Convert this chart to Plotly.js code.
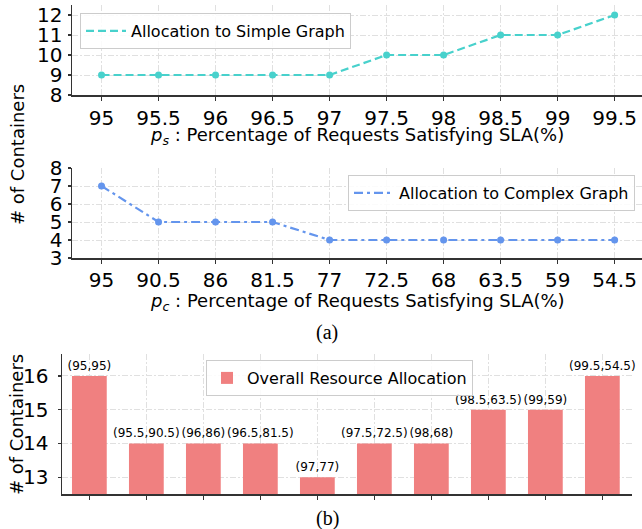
<!DOCTYPE html>
<html>
<head>
<meta charset="utf-8">
<script src="https://cdn.plot.ly/plotly-3.0.1.min.js"></script>
<style>html,body{margin:0;padding:0;background:#fff;}#chart{width:642px;height:529px;}</style>
</head>
<body>
<div id="chart"></div>
<script>
// ---- data ----
const psLabels = ["95","95.5","96","96.5","97","97.5","98","98.5","99","99.5"];
const simpleAlloc = [9, 9, 9, 9, 9, 10, 10, 11, 11, 12];
const pcLabels = ["95","90.5","86","81.5","77","72.5","68","63.5","59","54.5"];
const complexAlloc = [7, 5, 5, 5, 4, 4, 4, 4, 4, 4];
const overallAlloc = [16, 14, 14, 14, 13, 14, 14, 15, 15, 16];
const pairLabels = psLabels.map((p, i) => "(" + p + "," + pcLabels[i] + ")");

const FONT = "DejaVu Sans, Liberation Sans, sans-serif";
const SERIF = "Liberation Serif, Times New Roman, serif";
const gridColor = "#e0e0e0";
const gridDash = "6px,2px,2px,2px";
const simpleColor = "#48D1CC", complexColor = "#6495ED", barColor = "#F08080";
const simpleDash = "8px,4px", complexDash = "9px,4px,3px,4px";

const traces = [
  {
    x: psLabels, y: simpleAlloc, xaxis: "x", yaxis: "y",
    type: "scatter", mode: "lines", name: "Allocation to Simple Graph",
    line: {color: simpleColor, width: 2.2, dash: simpleDash},
    legend: "legend"
  },
  {
    x: psLabels, y: simpleAlloc, xaxis: "x", yaxis: "y",
    type: "scatter", mode: "markers", showlegend: false,
    marker: {color: simpleColor, size: 7}
  },
  {
    x: pcLabels, y: complexAlloc, xaxis: "x2", yaxis: "y2",
    type: "scatter", mode: "lines", name: "Allocation to Complex Graph",
    line: {color: complexColor, width: 2.2, dash: complexDash},
    legend: "legend2"
  },
  {
    x: pcLabels, y: complexAlloc, xaxis: "x2", yaxis: "y2",
    type: "scatter", mode: "markers", showlegend: false,
    marker: {color: complexColor, size: 7}
  },
  {
    x: pairLabels, y: overallAlloc, xaxis: "x3", yaxis: "y3",
    type: "bar", name: "Overall Resource Allocation",
    marker: {color: barColor}, width: 0.61,
    text: pairLabels, textposition: "outside", cliponaxis: false,
    constraintext: "none",
    textfont: {family: FONT, size: 12, color: "#000"},
    legend: "legend3"
  }
];

function xax(domain, range, extra) {
  return Object.assign({
    domain: domain, range: range, type: "category",
    showline: true, linecolor: "#333", linewidth: 1.5,
    ticks: "outside", ticklen: 4, tickcolor: "#333", tickwidth: 1.2,
    showgrid: true, gridcolor: gridColor, gridwidth: 1, griddash: gridDash,
    tickfont: {family: FONT, size: 20, color: "#000"},
    zeroline: false, fixedrange: true
  }, extra || {});
}
function yax(domain, range, dtick, extra) {
  return Object.assign({
    domain: domain, range: range, dtick: dtick, tick0: 0,
    showline: true, linecolor: "#333", linewidth: 1.5,
    ticks: "outside", ticklen: 3, tickcolor: "#333", tickwidth: 1.2,
    showgrid: true, gridcolor: gridColor, gridwidth: 1, griddash: gridDash,
    tickfont: {family: FONT, size: 20, color: "#000"},
    zeroline: false, fixedrange: true, ticklabelstandoff: 1
  }, extra || {});
}

const legendBase = {
  xanchor: "left", yanchor: "top",
  bgcolor: "rgba(255,255,255,0.85)", bordercolor: "#cccccc", borderwidth: 1,
  font: {family: FONT, size: 16, color: "#000"}
};

const layout = {
  width: 642, height: 529,
  margin: {l: 0, r: 0, t: 0, b: 0},
  paper_bgcolor: "#fff", plot_bgcolor: "#fff",
  font: {family: FONT, color: "#000"},
  showlegend: true,
  xaxis: xax([72/642, 1], [-0.518, 9.48], {anchor: "y"}),
  yaxis: yax([1 - 95/529, 1 - 5/529], [8, 12.5], 1, {anchor: "x"}),
  xaxis2: xax([72/642, 1], [-0.518, 9.48], {anchor: "y2", ticklabelstandoff: -1}),
  yaxis2: yax([1 - 258/529, 1 - 168/529], [3, 8], 1, {anchor: "x2"}),
  xaxis3: xax([62/642, 632/642], [-0.48, 9.52], {anchor: "y3", showticklabels: false, layer: "above traces"}),
  yaxis3: yax([1 - 494/529, 1 - 354/529], [12.5, 16.65], 1, {anchor: "x3", layer: "above traces", ticklabelstandoff: 5}),
  legend: Object.assign({x: 80/642, y: 1 - 13/529, itemwidth: 40}, legendBase),
  legend2: Object.assign({x: 348/642, y: 1 - 175/529, itemwidth: 40}, legendBase),
  legend3: Object.assign({x: 206/642, y: 1 - 360/529}, legendBase),
  annotations: [
    {text: "<i>p</i><sub><i>s</i></sub> : Percentage of Requests Satisfying SLA(%)",
     xref: "paper", yref: "paper", x: 357/642, y: 1 - 136/529, xanchor: "center", yanchor: "middle",
     showarrow: false, font: {family: FONT, size: 18, color: "#000"}},
    {text: "<i>p</i><sub><i>c</i></sub> : Percentage of Requests Satisfying SLA(%)",
     xref: "paper", yref: "paper", x: 357/642, y: 1 - 302/529, xanchor: "center", yanchor: "middle",
     showarrow: false, font: {family: FONT, size: 18, color: "#000"}},
    {text: "(a)", xref: "paper", yref: "paper", x: 327/642, y: 1 - 332/529,
     xanchor: "center", yanchor: "middle", showarrow: false,
     font: {family: SERIF, size: 20, color: "#000"}},
    {text: "(b)", xref: "paper", yref: "paper", x: 328/642, y: 1 - 518/529,
     xanchor: "center", yanchor: "middle", showarrow: false,
     font: {family: SERIF, size: 20, color: "#000"}},
    {text: "# of Containers", xref: "paper", yref: "paper", x: 17/642, y: 1 - 155/529,
     xanchor: "center", yanchor: "middle", textangle: -90, showarrow: false,
     font: {family: FONT, size: 18, color: "#000"}},
    {text: "# of Containers", xref: "paper", yref: "paper", x: 16/642, y: 1 - 425/529,
     xanchor: "center", yanchor: "middle", textangle: -90, showarrow: false,
     font: {family: FONT, size: 18, color: "#000"}}
  ]
};

Plotly.newPlot("chart", traces, layout, {displayModeBar: false, staticPlot: true});
</script>
</body>
</html>
